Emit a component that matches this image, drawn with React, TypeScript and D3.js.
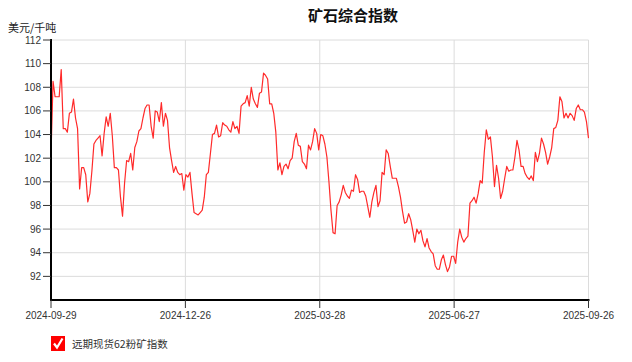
import React from "react";
import * as d3 from "d3";

const title = "矿石综合指数";
const unitLabel = "美元/千吨";
const seriesName = "远期现货62粉矿指数";
const xTickLabels = ["2024-09-29", "2024-12-26", "2025-03-28", "2025-06-27", "2025-09-26"];
const yTicks = [92, 94, 96, 98, 100, 102, 104, 106, 108, 110, 112];

const values: number[] = [
  102.3, 108.5, 107.2, 107.2, 107.2, 109.5, 104.5, 104.5, 104.2, 105.8,
  105.9, 107.0, 105.4, 104.5, 99.4, 101.2, 101.2, 100.6, 98.3, 99.0,
  100.9, 103.2, 103.5, 103.7, 103.9, 102.2, 104.1, 105.5, 104.7, 105.8,
  103.9, 101.2, 101.2, 101.0, 98.7, 97.1, 99.9, 101.8, 101.7, 102.4,
  101.0, 102.9, 103.4, 104.3, 104.5, 105.4, 106.2, 106.5, 106.5, 104.7,
  103.7, 106.0, 105.9, 105.1, 106.7, 104.7, 105.8, 105.2, 102.9, 101.8,
  100.8, 101.3, 100.8, 100.6, 100.7, 99.3, 100.6, 100.4, 100.8, 99.0,
  97.4, 97.3, 97.2, 97.4, 97.6, 98.7, 100.6, 100.8, 102.4, 104.0,
  104.1, 104.8, 103.8, 103.9, 105.0, 104.8, 104.7, 104.4, 104.2, 105.1,
  104.5, 104.7, 104.1, 106.4, 106.6, 106.7, 107.3, 106.4, 108.0, 107.0,
  106.6, 106.3, 107.5, 107.6, 109.2, 109.0, 108.7, 106.6, 106.6, 105.8,
  104.2, 101.0, 101.6, 100.6, 101.3, 101.5, 101.1, 101.8, 102.0, 103.4,
  104.1, 103.1, 103.0, 101.7, 101.5, 101.1, 103.1, 102.7, 103.4, 104.5,
  104.1, 102.7, 104.0, 103.9, 103.2, 102.1, 100.0, 97.6, 95.7, 95.6,
  98.0, 98.3, 98.9, 99.7, 99.1, 98.8, 98.6, 99.3, 99.2, 100.6,
  100.2, 99.1, 99.2, 99.2, 98.8, 97.9, 97.0, 98.3, 99.1, 99.7,
  97.9, 98.4, 100.8, 100.6, 102.7, 102.4, 101.3, 100.3, 100.3, 100.3,
  99.6, 98.7, 97.5, 96.5, 96.6, 97.3, 96.8, 95.9, 94.9, 96.0,
  95.6, 95.9, 95.0, 94.5, 95.2, 94.4, 94.1, 93.9, 92.9, 92.6,
  92.6, 93.4, 93.8, 93.0, 92.4, 92.8, 93.7, 93.7, 93.1, 94.9,
  96.0, 95.3, 94.9, 95.2, 95.4, 98.2, 98.4, 98.7, 98.2, 99.0,
  100.1, 99.9, 102.5, 104.4, 103.6, 103.8, 102.1, 99.6, 101.4, 100.3,
  98.6, 99.2, 100.3, 101.3, 100.9, 101.0, 101.0, 102.1, 103.5, 102.7,
  101.3, 101.3, 100.7, 100.4, 100.2, 100.5, 100.1, 102.5, 101.7, 102.4,
  103.7, 103.2, 102.5, 101.5, 102.1, 102.9, 104.5, 104.6, 105.2, 107.2,
  106.8, 105.4, 105.8, 105.4, 105.8, 105.6, 105.2, 106.2, 106.5, 106.1,
  106.1, 105.9, 105.1, 103.7,
];

const W = 632;
const H = 362;
const left = 51;
const right = 588.5;
const top = 40;
const bottom = 300;

export default function App() {
  const n = values.length;
  const x = d3.scaleLinear().domain([0, n - 1]).range([left, right]);
  const y = d3.scaleLinear().domain([90, 112]).range([bottom, top]);
  const line = d3
    .line<number>()
    .x((_, i) => x(i))
    .y((d) => y(d));
  const xTickIdx = xTickLabels.map((_, k) => ((n - 1) * k) / (xTickLabels.length - 1));
  const numFont = "'Liberation Sans', Arial, sans-serif";
  const cjkFont = "'Noto Sans CJK SC', sans-serif";

  return (
    <svg
      width={W}
      height={H}
      style={{ position: "absolute", left: 0, top: 0, background: "#fff" }}
    >
      <text
        x={353}
        y={21}
        textAnchor="middle"
        fontFamily={cjkFont}
        fontWeight="bold"
        fontSize={15}
        fill="#111"
      >
        {title}
      </text>
      <text x={8} y={32} fontFamily={cjkFont} fontSize={11} fill="#222">
        {unitLabel}
      </text>

      {/* horizontal grid */}
      {yTicks.map((t) => (
        <line key={"g" + t} x1={left} x2={right} y1={y(t)} y2={y(t)} stroke="#dcdcdc" strokeWidth={1} />
      ))}
      {/* vertical grid */}
      {xTickIdx.slice(1).map((t, k) => (
        <line key={"v" + k} x1={x(t)} x2={x(t)} y1={top} y2={bottom} stroke="#dcdcdc" strokeWidth={1} />
      ))}

      <path d={line(values) || ""} fill="none" stroke="#ff2a2a" strokeWidth={1.2} strokeLinejoin="round" />

      {/* y axis */}
      <line x1={left} x2={left} y1={top - 1} y2={bottom + 1} stroke="#000" strokeWidth={2} />
      {yTicks.map((t) => (
        <g key={"y" + t}>
          <line x1={left - 8} x2={left} y1={y(t)} y2={y(t)} stroke="#333" strokeWidth={1} />
          <text
            x={left - 10}
            y={y(t)}
            dy="0.35em"
            textAnchor="end"
            fontFamily={numFont}
            fontSize={10}
            fill="#333"
          >
            {t}
          </text>
        </g>
      ))}

      {/* x axis */}
      <line x1={left - 1} x2={right + 1} y1={bottom} y2={bottom} stroke="#000" strokeWidth={2} />
      {xTickIdx.map((t, k) => (
        <g key={"x" + k}>
          <line x1={x(t)} x2={x(t)} y1={bottom} y2={bottom + 8} stroke="#333" strokeWidth={1} />
          <text
            x={x(t)}
            y={bottom + 19}
            textAnchor="middle"
            fontFamily={numFont}
            fontSize={10}
            fill="#333"
          >
            {xTickLabels[k]}
          </text>
        </g>
      ))}

      {/* legend */}
      <g transform="translate(51,336)">
        <rect x={0} y={0} width={14} height={15} fill="#ff0000" />
        <path d="M3,7.5 L6,11.5 L11.5,2.5" fill="none" stroke="#fff" strokeWidth={2.2} />
        <text x={21} y={11.5} fontFamily={cjkFont} fontSize={10.5} fill="#333">
          {seriesName}
        </text>
      </g>
    </svg>
  );
}
